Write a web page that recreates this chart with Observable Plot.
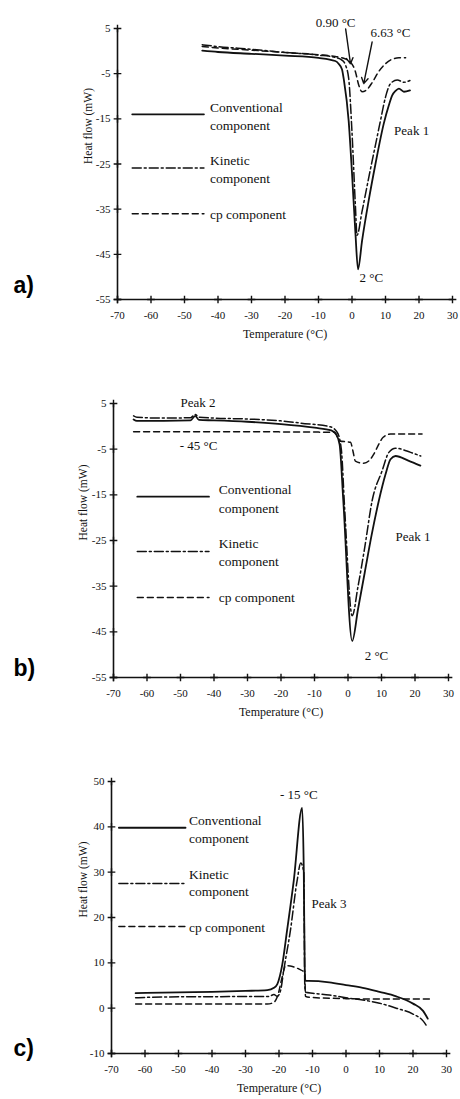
<!DOCTYPE html>
<html><head><meta charset="utf-8">
<script src="https://cdn.jsdelivr.net/npm/d3@7"></script>
<script src="https://cdn.jsdelivr.net/npm/@observablehq/plot@0.6"></script>
<style>
body{margin:0;background:#fff;}
#wrap{position:relative;width:460px;height:1099px;overflow:hidden;background:#fff;}
.panel{position:absolute;left:0;}
</style></head><body><div id="wrap"></div>
<script>
// ---------- data ----------
const xTicks = [-70,-60,-50,-40,-30,-20,-10,0,10,20,30];
const yTicksAB = [5,-5,-15,-25,-35,-45,-55];
const yTicksC = [50,40,30,20,10,0,-10];
const seriesNames = ["Conventional\ncomponent", "Kinetic\ncomponent", "cp component"];

// panel a) [temperature °C, heat flow mW]
const aConventional = [[-44.7,0.1],[-40,-0.2],[-30,-0.6],[-20,-1.0],[-10,-1.5],[-5,-2.2],[-4,-2.8],[-3,-4.0],[-2.4,-6.5],[-1,-15.4],[0,-27],[1,-40],[1.8,-48.3],[3,-42],[5,-33],[7,-25],[9.5,-16],[11,-12],[12,-9.8],[13,-8.8],[14,-8.3],[15.5,-9.0],[17.3,-8.7]];
const aKinetic = [[-44.7,1.4],[-40,1.0],[-30,0.4],[-20,-0.3],[-10,-0.9],[-5,-1.4],[-3,-2.0],[-2,-3.0],[-1,-6],[0,-18],[1,-34],[1.5,-40.8],[3,-35.5],[5,-28],[7.5,-19],[8.5,-15.4],[10,-10.2],[11.5,-7.2],[13.5,-6.4],[15.5,-6.9],[17.3,-6.5]];
const aCp = [[-44.7,1.0],[-40,0.7],[-30,0.2],[-20,-0.3],[-10,-0.8],[-5,-1.2],[-2.5,-1.6],[-0.5,-2.4],[1,-4.5],[2,-7.5],[3,-9.0],[4.5,-8.5],[6,-7.0],[8,-4.5],[10,-2.8],[12,-1.8],[14,-1.5],[16,-1.5]];
const aLabels = [{t:-4.9,v:6.3,s:"0.90 °C"},{t:11.5,v:4.1,s:"6.63 °C"},{t:17.8,v:-17.7,s:"Peak 1"},{t:5.8,v:-50.3,s:"2 °C"}];
const aArrows = [{t1:-1.9,v1:4.9,t2:-0.45,v2:-2.8},{t1:6.0,v1:2.0,t2:3.5,v2:-7.2}];
const aLegend = {t1:-65.6,t2:-44.2,tText:-42.4,vLine:[-14.0,-25.9,-36.0],vText:[-14.3,-26.0,-35.8]};

// panel b)
const bConventional = [[-64,1.5],[-63,1.2],[-55,1.2],[-47,1.3],[-45.6,2.3],[-44.5,1.4],[-40,1.3],[-30,1.0],[-20,0.5],[-10,-0.3],[-5,-0.9],[-3.5,-1.8],[-2.5,-4],[-1.4,-16.3],[1.25,-47],[3,-40],[5,-32],[7,-24],[9.2,-16.3],[11.2,-10.5],[12.7,-7.2],[14.2,-6.5],[18,-7.5],[21.6,-8.6]];
const bKinetic = [[-64,2.3],[-63,2.0],[-55,1.8],[-47,1.9],[-45.6,2.6],[-44.5,2.0],[-40,1.8],[-30,1.6],[-20,1.2],[-14,0.7],[-5.3,-0.1],[-3.2,-1.35],[-2.0,-5],[-1.0,-18],[1.25,-41.5],[3,-35],[5,-26.5],[7.2,-16.3],[10.2,-9.7],[12.2,-5.7],[14.2,-4.8],[18.7,-5.7],[21.7,-6.5]];
const bCp = [[-64,-1.2],[-30,-1.2],[-4,-1.3],[-2.5,-3.2],[0.75,-3.5],[1.5,-5.5],[2.2,-7.6],[4.7,-8.1],[6.7,-7.2],[7.7,-6.1],[9.2,-3.9],[10.5,-2.4],[12.7,-1.7],[22.1,-1.7]];
const bLabels = [{t:-44.8,v:5.2,s:"Peak 2"},{t:-44.6,v:-4.3,s:"- 45 °C"},{t:19.4,v:-24.3,s:"Peak 1"},{t:8.5,v:-50.2,s:"2 °C"}];
const bArrows = [];
const bLegend = {t1:-62.9,t2:-41.5,tText:-38.6,vLine:[-15.4,-27.4,-37.5],vText:[-15.55,-27.35,-37.2]};

// panel c)
const cConventional = [[-62.8,3.3],[-50,3.5],[-40,3.6],[-30,3.8],[-23.5,4.0],[-21.5,4.5],[-20.5,5.3],[-19,9.7],[-17.6,17.1],[-15.6,28.1],[-13.1,44.2],[-12.6,30],[-12.3,8],[-12.1,6.0],[-11.3,6.0],[-5,5.7],[0,5.1],[5,4.5],[10,3.6],[15,2.6],[20,1.0],[23,-0.6],[24.4,-2.3]];
const cKinetic = [[-62.8,2.3],[-50,2.5],[-40,2.5],[-30,2.6],[-23,2.6],[-21.5,3.0],[-20.5,2.6],[-19.5,4],[-18.6,8.3],[-16.6,17.1],[-14.6,28.1],[-13.5,32],[-12.6,30],[-12.3,5],[-12.0,3.5],[-10,3.3],[-5,2.9],[0,2.3],[5,1.8],[10,1.1],[15,0.0],[20,-1.3],[23,-2.8],[24.4,-4.3]];
const cCp = [[-62.8,0.9],[-40,0.9],[-23.5,0.9],[-21.5,1.3],[-20.5,2.5],[-19,7],[-18,9.4],[-16,9.2],[-14,8.6],[-12.3,7.8],[-12.1,2.6],[-11,2.4],[0,2.1],[10,2.0],[25.2,2.0]];
const cLabels = [{t:-14.1,v:47.1,s:"- 15 °C"},{t:-5.1,v:23.1,s:"Peak 3"}];
const cArrows = [];
const cLegend = {t1:-67.8,t2:-47.9,tText:-46.9,vLine:[39.8,27.5,18.0],vText:[39.65,27.85,18.0]};

// ---------- drawing ----------
const SERIF = "'Liberation Serif','Times New Roman',serif";
const INK = "#111";
const lineStyles = [
  {strokeWidth:1.8},
  {strokeWidth:1.5, strokeDasharray:"9,3,2,3"},
  {strokeWidth:1.5, strokeDasharray:"6,4"}
];
const fmt = d => String(d);

function panel(c) {
  const [yMin] = c.yDomain;
  const xMin = -70;
  const marks = [
    Plot.ruleY([yMin], {stroke: INK, strokeWidth: 1.6}),
    Plot.ruleX([xMin], {stroke: INK, strokeWidth: 1.6}),
    Plot.dot(xTicks, {x: d => d, y: yMin, symbol: "plus", r: 2.6, stroke: INK, strokeWidth: 1.4}),
    Plot.dot(c.yTicks, {x: xMin, y: d => d, symbol: "plus", r: 2.6, stroke: INK, strokeWidth: 1.4}),
    Plot.axisX({ticks: xTicks, tickSize: 0, tickPadding: 12, tickFormat: fmt, label: null, fontSize: 11, fontFamily: SERIF}),
    Plot.axisY({ticks: c.yTicks, tickSize: 0, tickPadding: 7, tickFormat: fmt, label: null, fontSize: 11, fontFamily: SERIF}),
    Plot.text(["Temperature (°C)"], {text: d => d, frameAnchor: "bottom", dy: 38, fontSize: 12, fontFamily: SERIF, fill: INK}),
    Plot.text(["Heat flow (mW)"], {text: d => d, frameAnchor: "left", dx: c.yLabelDx, rotate: -90, fontSize: 11.5, fontFamily: SERIF, fill: INK}),
    Plot.text([c.letter], {text: d => d, frameAnchor: "bottom-left", dx: c.letterDx, dy: c.letterDy, textAnchor: "start",
      fontFamily: "'Liberation Sans',Arial,sans-serif", fontWeight: "bold", fontSize: 23, fill: "#000"})
  ];
  c.series.forEach((data, i) => {
    marks.push(Plot.line(data, {x: d => d[0], y: d => d[1], stroke: INK, curve: "monotone-x", ...lineStyles[i]}));
    marks.push(Plot.line([[c.legend.t1, c.legend.vLine[i]], [c.legend.t2, c.legend.vLine[i]]],
      {x: d => d[0], y: d => d[1], stroke: INK, ...lineStyles[i]}));
    marks.push(Plot.text([seriesNames[i]], {text: d => d, x: c.legend.tText, y: c.legend.vText[i], textAnchor: "start",
      fontSize: 13.5, fontFamily: SERIF, lineHeight: c.legendLH, fill: INK}));
  });
  marks.push(Plot.text(c.labels, {x: "t", y: "v", text: "s", fontSize: 13, fontFamily: SERIF, fill: INK}));
  if (c.arrows.length) marks.push(Plot.arrow(c.arrows, {x1: "t1", y1: "v1", x2: "t2", y2: "v2", stroke: INK, strokeWidth: 1.4, headLength: 7}));
  const p = Plot.plot({
    width: 460, height: c.height,
    marginLeft: c.ml, marginRight: c.mr, marginTop: c.mt, marginBottom: c.mb,
    x: {domain: [-70, 30]},
    y: {domain: c.yDomain},
    style: {fontFamily: SERIF, fontSize: "11px", color: INK, background: "white", overflow: "visible"},
    marks
  });
  const div = document.createElement("div");
  div.className = "panel";
  div.style.top = c.top + "px";
  div.appendChild(p);
  document.getElementById("wrap").appendChild(div);
}

panel({top: 0, height: 345, ml: 117, mr: 8, mt: 28, mb: 46, yDomain: [-55, 5], yTicks: yTicksAB,
  series: [aConventional, aKinetic, aCp], labels: aLabels, arrows: aArrows, legend: aLegend, legendLH: 1.33,
  letter: "a)", letterDx: -104, letterDy: -7, yLabelDx: -29});
panel({top: 360, height: 363, ml: 113, mr: 12, mt: 43, mb: 46, yDomain: [-55, 5], yTicks: yTicksAB,
  series: [bConventional, bKinetic, bCp], labels: bLabels, arrows: bArrows, legend: bLegend, legendLH: 1.38,
  letter: "b)", letterDx: -100, letterDy: -2, yLabelDx: -30});
panel({top: 740, height: 359, ml: 111, mr: 14, mt: 41, mb: 46, yDomain: [-10, 50], yTicks: yTicksC,
  series: [cConventional, cKinetic, cCp], labels: cLabels, arrows: cArrows, legend: cLegend, legendLH: 1.31,
  letter: "c)", letterDx: -98, letterDy: 2, yLabelDx: -28});
</script></body></html>
